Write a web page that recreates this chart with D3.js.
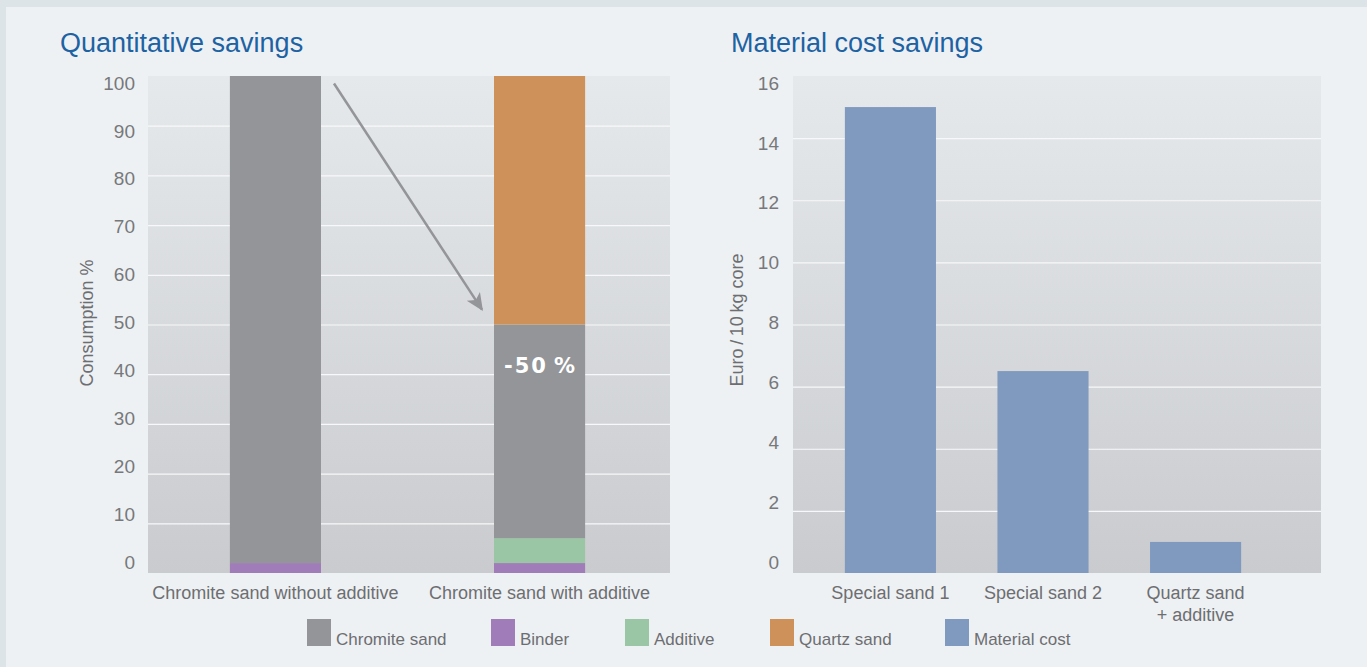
<!DOCTYPE html>
<meta charset="utf-8">
<head>
<style>
body { margin: 0; background: #dce4e8; font-family: "Liberation Sans", "Helvetica", sans-serif; }
.grid line { stroke: #f7f8f9; stroke-width: 1.2px; }
.grid path { display: none; }
.tick-label { fill: #77787b; font-size: 19px; }
.cat-label { fill: #6d6e71; font-size: 18px; }
.title { fill: #1d62a3; font-size: 27px; }
.axis-title { fill: #6d6e71; font-size: 18px; }
.legend text { fill: #6d6e71; font-size: 17px; }
</style>
<script src="https://d3js.org/d3.v7.min.js"></script>
</head>
<body>
<div id="chart"></div>
<script>

// ---- data ----
var qCategories = ["Chromite sand without additive", "Chromite sand with additive"];
var qKeys = ["Binder", "Additive", "Chromite sand", "Quartz sand"];
var binder = [2, 2];
var additive = [0, 5];
var chromite = [98, 43];
var quartz = [0, 50];
var qTicks = [0, 10, 20, 30, 40, 50, 60, 70, 80, 90, 100];

var cCategories = ["Special sand 1", "Special sand 2", "Quartz sand|+ additive"];
var materialCost = [15, 6.5, 1];
var cTicks = [0, 2, 4, 6, 8, 10, 12, 14, 16];

var legendLabels = ["Chromite sand", "Binder", "Additive", "Quartz sand", "Material cost"];
var legendX = [307, 491, 625, 770, 945];

var colors = {
  "Chromite sand": "#939598",
  "Binder": "#a07cb8",
  "Additive": "#9bc6a5",
  "Quartz sand": "#cf915a",
  "Material cost": "#7f99bf"
};

var W = 1367, H = 667;

var svg = d3.select("#chart").append("svg")
  .attr("width", W)
  .attr("height", H);

// panel background
svg.append("rect").attr("width", W).attr("height", H).attr("fill", "#dce4e8");
svg.append("rect").attr("x", 6).attr("y", 7).attr("width", W - 6).attr("height", H - 7).attr("fill", "#edf1f4");

var defs = svg.append("defs");
var grad = defs.append("linearGradient").attr("id", "plotbg")
  .attr("x1", 0).attr("y1", 0).attr("x2", 0).attr("y2", 1);
grad.append("stop").attr("offset", "0%").attr("stop-color", "#e6e9ec");
grad.append("stop").attr("offset", "100%").attr("stop-color", "#c9cbce");

var plotTop = 76, plotBottom = 573;

// labels sit slightly compressed relative to the gridlines in the original
function labelScale(domain) {
  return d3.scaleLinear().domain(domain).range([562, 83]);
}

////// Left chart: Quantitative savings
var qLeft = 148, qRight = 670;

var qx = d3.scaleBand()
  .domain(qCategories)
  .range([qLeft, qRight - 3])
  .paddingInner(0.655)
  .paddingOuter(0.31);

var qy = d3.scaleLinear().domain([0, 100]).range([plotBottom, plotTop]);
var qyLab = labelScale([0, 100]);

svg.append("rect")
  .attr("x", qLeft).attr("y", plotTop)
  .attr("width", qRight - qLeft).attr("height", plotBottom - plotTop)
  .attr("fill", "url(#plotbg)");

svg.append("g")
  .attr("class", "grid")
  .attr("transform", "translate(" + qLeft + ",0)")
  .call(d3.axisLeft(qy).tickValues(qTicks.slice(1, -1)).tickSize(-(qRight - qLeft)).tickFormat(""));

svg.append("g").selectAll("text")
  .data(qTicks)
  .enter().append("text")
    .attr("class", "tick-label")
    .attr("x", 135)
    .attr("y", function(d) { return qyLab(d); })
    .attr("dy", "0.35em")
    .attr("text-anchor", "end")
    .text(function(d) { return d; });

var qRows = qCategories.map(function(c, i) {
  return {cat: c, "Binder": binder[i], "Additive": additive[i], "Chromite sand": chromite[i], "Quartz sand": quartz[i]};
});
var stacked = d3.stack().keys(qKeys)(qRows);

svg.append("g").selectAll("g")
  .data(stacked)
  .enter().append("g")
    .attr("fill", function(d) { return colors[d.key]; })
  .selectAll("rect")
  .data(function(d) { return d; })
  .enter().append("rect")
    .attr("x", function(d) { return qx(d.data.cat); })
    .attr("y", function(d) { return qy(d[1]); })
    .attr("width", qx.bandwidth())
    .attr("height", function(d) { return qy(d[0]) - qy(d[1]); });

// -50% label
svg.append("text")
  .attr("x", qx(qCategories[1]) + qx.bandwidth() / 2 + 1)
  .attr("y", qy(40) - 1)
  .attr("text-anchor", "middle")
  .attr("fill", "#ffffff")
  .style("font-family", "DejaVu Sans, sans-serif")
  .style("font-weight", "bold")
  .style("font-size", "21px")
  .style("letter-spacing", "2px")
  .text("-50\u2009%");

// arrow
defs.append("marker")
  .attr("id", "arrowhead")
  .attr("viewBox", "0 0 10 10")
  .attr("refX", 9).attr("refY", 5)
  .attr("markerWidth", 7).attr("markerHeight", 7)
  .attr("markerUnits", "strokeWidth")
  .attr("orient", "auto")
  .append("path")
    .attr("d", "M0,0.5 L10,5 L0,9.5 L2.5,5 Z")
    .attr("fill", "#939598");

svg.append("line")
  .attr("x1", qx(qCategories[0]) + qx.bandwidth() + 13)
  .attr("y1", qy(98.5))
  .attr("x2", qx(qCategories[1]) - 12)
  .attr("y2", qy(53))
  .attr("stroke", "#939598")
  .attr("stroke-width", 2.5)
  .attr("marker-end", "url(#arrowhead)");

svg.append("g").selectAll("text")
  .data(qCategories)
  .enter().append("text")
    .attr("class", "cat-label")
    .attr("x", function(d) { return qx(d) + qx.bandwidth() / 2; })
    .attr("y", 599)
    .attr("text-anchor", "middle")
    .text(function(d) { return d; });

svg.append("text")
  .attr("class", "title")
  .attr("x", 60).attr("y", 52)
  .text("Quantitative savings");

svg.append("text")
  .attr("class", "axis-title")
  .attr("transform", "translate(93,323) rotate(-90)")
  .attr("text-anchor", "middle")
  .text("Consumption %");

////// Right chart: Material cost savings
var cLeft = 793, cRight = 1321;

var cx = d3.scaleBand()
  .domain(cCategories)
  .range([cLeft, 1293])
  .paddingInner(0.403)
  .paddingOuter(0.34);

var cy = d3.scaleLinear().domain([0, 16]).range([plotBottom, plotTop]);
var cyLab = labelScale([0, 16]);

svg.append("rect")
  .attr("x", cLeft).attr("y", plotTop)
  .attr("width", cRight - cLeft).attr("height", plotBottom - plotTop)
  .attr("fill", "url(#plotbg)");

svg.append("g")
  .attr("class", "grid")
  .attr("transform", "translate(" + cLeft + ",0)")
  .call(d3.axisLeft(cy).tickValues(cTicks.slice(1, -1)).tickSize(-(cRight - cLeft)).tickFormat(""));

svg.append("g").selectAll("text")
  .data(cTicks)
  .enter().append("text")
    .attr("class", "tick-label")
    .attr("x", 779)
    .attr("y", function(d) { return cyLab(d); })
    .attr("dy", "0.35em")
    .attr("text-anchor", "end")
    .text(function(d) { return d; });

svg.append("g").selectAll("rect")
  .data(materialCost)
  .enter().append("rect")
    .attr("x", function(d, i) { return cx(cCategories[i]); })
    .attr("y", function(d) { return cy(d); })
    .attr("width", cx.bandwidth())
    .attr("height", function(d) { return cy(0) - cy(d); })
    .attr("fill", colors["Material cost"]);

var cLabels = svg.append("g").selectAll("text")
  .data(cCategories)
  .enter().append("text")
    .attr("class", "cat-label")
    .attr("text-anchor", "middle")
    .attr("y", 599);
cLabels.selectAll("tspan")
  .data(function(d) { return d.split("|").map(function(t) { return {t: t, c: d}; }); })
  .enter().append("tspan")
    .attr("x", function(d) { return cx(d.c) + cx.bandwidth() / 2; })
    .attr("dy", function(d, i) { return i === 0 ? 0 : 22; })
    .text(function(d) { return d.t; });

svg.append("text")
  .attr("class", "title")
  .attr("x", 731).attr("y", 52)
  .text("Material cost savings");

svg.append("text")
  .attr("class", "axis-title")
  .attr("transform", "translate(743,320) rotate(-90)")
  .attr("text-anchor", "middle")
  .text("Euro\u2009/\u200910\u2009kg core");

////// Legend
var legend = svg.append("g").attr("class", "legend")
  .selectAll("g")
  .data(legendLabels)
  .enter().append("g")
    .attr("transform", function(d, i) { return "translate(" + legendX[i] + ",619)"; });

legend.append("rect")
  .attr("width", 24).attr("height", 27)
  .attr("fill", function(d) { return colors[d]; });

legend.append("text")
  .attr("x", 29).attr("y", 26)
  .text(function(d) { return d; });

</script>
</body>
</html>
